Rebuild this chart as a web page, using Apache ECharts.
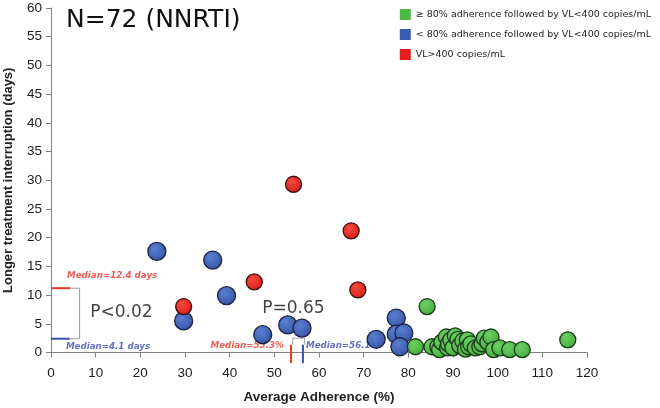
<!DOCTYPE html>
<html><head><meta charset="utf-8">
<script src="https://cdn.jsdelivr.net/npm/echarts@6/dist/echarts.min.js"></script>
<style>html,body{margin:0;padding:0;background:#fff}#c{width:660px;height:408px}</style>
</head><body><div id="c"></div>
<script>
// ---- data ----
const xTicks = [0,10,20,30,40,50,60,70,80,90,100,110,120];
const yTicks = [0,5,10,15,20,25,30,35,40,45,50,55,60];
const legendNames = ['\u2265 80% adherence followed by VL<400 copies/mL', '< 80% adherence followed by VL<400 copies/mL', 'VL>400 copies/mL'];
const greenPts = [[81.6,1.0],[84.2,8.0],[85.3,1.0],[86.6,1.0],[87.0,0.5],[87.5,1.8],[88.5,2.7],[88.8,0.8],[89.0,1.5],[89.5,2.2],[90.0,0.8],[90.5,2.9],[91.1,2.3],[91.5,1.2],[92.2,2.0],[92.8,0.6],[93.2,2.2],[93.5,1.0],[94.0,1.5],[95.0,0.8],[96.0,1.0],[96.5,1.5],[97.0,2.5],[97.8,1.8],[98.5,2.7],[99.1,0.5],[100.5,0.8],[102.7,0.5],[105.5,0.5],[115.7,2.2]];
const bluePts = [[23.7,17.6],[36.2,16.1],[39.3,9.9],[29.7,5.5],[47.4,3.1],[53.0,4.8],[56.2,4.25],[72.8,2.3],[77.3,6.0],[77.3,3.2],[79.0,3.4],[78.1,1.0]];
const redPts = [[29.7,8.0],[45.5,12.3],[54.3,29.3],[67.2,21.2],[68.7,10.9]];
// median markers (days, left side; adherence, bottom)
const redMedianDays = [[0,11.2],[4.3,11.2]];
const blueMedianDays = [[0,2.4],[4.2,2.4]];
const daysBracket = [[4.3,11.2],[6.4,11.2],[6.4,2.4],[4.2,2.4]];
const redMedianAdh = [[53.75,1.35],[53.75,-1.85]];
const blueMedianAdh = [[56.4,1.35],[56.4,-1.85]];
const adhBracket = [[54.1,1.35],[54.1,2.5],[56.8,2.5],[56.8,1.35]];
const annotations = [
  {pos:[3.6,13.4], text:'Median=12.4 days', kind:'red', align:'left'},
  {pos:[3.35,1.05], text:'Median=4.1 days', kind:'blue', align:'left'},
  {pos:[52.1,1.15], text:'Median=55.3%', kind:'red', align:'right'},
  {pos:[57.1,1.15], text:'Median=56.1%', kind:'blue', align:'left'},
  {pos:[8.8,6.9], text:'P<0.02', kind:'p', align:'left'},
  {pos:[47.3,7.6], text:'P=0.65', kind:'p', align:'left'}
];
// ---- styles ----
const C = {green:'#4db848', blue:'#3a5db2', red:'#e11f1c', redText:'#e8352b', blueText:'#3a4cb0'};
function ball(base, light){
  return {type:'radial', x:0.38, y:0.35, r:0.75, colorStops:[{offset:0,color:light},{offset:1,color:base}]};
}
function lineSeries(data, color, w){
  return {type:'line', data, symbol:'none', silent:true, clip:false, z:1, animation:false,
    lineStyle:{color, width:w}};
}
const annSeries = annotations.map(a => {
  const isP = a.kind === 'p';
  return {type:'scatter', data:[a.pos], symbolSize:1, silent:true, animation:false, z:2, clip:false,
    itemStyle:{color:'rgba(0,0,0,0)'},
    label:{show:true, position:'inside', formatter:a.text, align:a.align, verticalAlign:'middle',
      fontFamily:'DejaVu Sans', fontSize:isP?17:8.7, fontStyle:isP?'normal':'italic', fontWeight:isP?'normal':'bold',
      color:isP?'#111':(a.kind==='red'?C.redText:C.blueText)}};
});
const chart = echarts.init(document.getElementById('c'), null, {renderer:'canvas'});
chart.setOption({
  animation:false,
  backgroundColor:'#fff',
  title:{text:'N=72 (NNRTI)', left:66, top:5, padding:0,
    textStyle:{fontFamily:'DejaVu Sans', fontSize:25, fontWeight:'normal', color:'#111', lineHeight:30}},
  legend:{orient:'vertical', right:4, top:4, itemWidth:11, itemHeight:11, itemGap:9, icon:'rect',
    textStyle:{fontFamily:'DejaVu Sans', fontSize:9.5, color:'#222'},
    data:[{name:legendNames[0], itemStyle:{color:C.green, borderWidth:0}},
          {name:legendNames[1], itemStyle:{color:C.blue, borderWidth:0}},
          {name:legendNames[2], itemStyle:{color:C.red, borderWidth:0}}]},
  grid:{left:51, right:73, top:8, bottom:55.5, containLabel:false, outerBoundsMode:'none'},
  xAxis:{type:'value', min:xTicks[0], max:xTicks[xTicks.length-1], interval:10,
    name:'Average Adherence (%)', nameLocation:'middle', nameGap:38,
    nameTextStyle:{fontFamily:'Liberation Sans', fontSize:13.5, fontWeight:'bold', color:'#222'},
    axisLine:{lineStyle:{color:'#808080', width:1}}, axisTick:{show:true, length:5, lineStyle:{color:'#808080'}},
    axisLabel:{fontFamily:'Liberation Sans', fontSize:13.5, color:'#1a1a1a', margin:14},
    splitLine:{show:false}},
  yAxis:{type:'value', min:yTicks[0], max:yTicks[yTicks.length-1], interval:5,
    name:'Longer treatment interruption (days)', nameLocation:'middle', nameGap:36,
    nameTextStyle:{fontFamily:'Liberation Sans', fontSize:13, fontWeight:'bold', color:'#222'},
    axisLine:{show:true, lineStyle:{color:'#808080', width:1}}, axisTick:{show:true, length:5, lineStyle:{color:'#808080'}},
    axisLabel:{fontFamily:'Liberation Sans', fontSize:13.5, color:'#1a1a1a', margin:9},
    splitLine:{show:false}},
  series:[
    lineSeries(daysBracket, '#9a9a9a', 1),
    lineSeries(adhBracket, '#9a9a9a', 1),
    lineSeries(redMedianDays, C.redText, 2),
    lineSeries(blueMedianDays, C.blueText, 2),
    lineSeries(redMedianAdh, C.redText, 2),
    lineSeries(blueMedianAdh, C.blueText, 2),
    ...annSeries,
    {name:legendNames[1], type:'scatter', data:bluePts, symbolSize:18, z:3,
      itemStyle:{color:ball('#33509f','#5a80d2'), borderColor:'#1c2340', borderWidth:1.3, opacity:1}},
    {name:legendNames[2], type:'scatter', data:redPts, symbolSize:16, z:4,
      itemStyle:{color:ball('#d41a17','#f5493c'), borderColor:'#3a1010', borderWidth:1.3, opacity:1}},
    {name:legendNames[0], type:'scatter', data:greenPts, symbolSize:16, z:5,
      itemStyle:{color:ball('#3fa83b','#6fd064'), borderColor:'#1c3a1a', borderWidth:1.3, opacity:1}}
  ]
});
</script></body></html>
